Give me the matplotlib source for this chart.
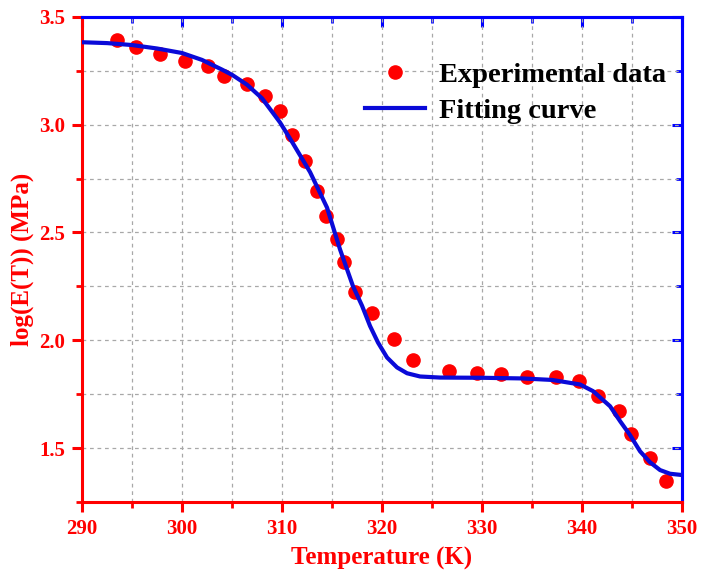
import matplotlib
matplotlib.use("Agg")
from matplotlib import pyplot as plt
from matplotlib.ticker import MultipleLocator

# experimental points
temp_exp = [293.5, 295.4, 297.8, 300.3, 302.6, 304.2, 306.5, 308.3, 309.8,
            311.0, 312.3, 313.5, 314.4, 315.5, 316.2, 317.3, 319.0, 321.2,
            323.1, 326.7, 329.5, 331.9, 334.5, 337.4, 339.7, 341.6, 343.7,
            344.9, 346.8, 348.4]
loge_exp = [3.394, 3.361, 3.329, 3.296, 3.273, 3.227, 3.190, 3.134, 3.065,
            2.954, 2.833, 2.690, 2.574, 2.468, 2.361, 2.222, 2.125, 2.005,
            1.907, 1.856, 1.847, 1.843, 1.829, 1.829, 1.810, 1.741, 1.671,
            1.565, 1.454, 1.347]

# fitted curve, traced
temp_fit = [290.0, 292.5, 295.0, 297.5, 300.0, 302.0, 304.0, 305.0, 306.5,
            308.0, 309.8, 311.0, 312.8, 314.5, 315.8, 317.1, 318.0, 318.8,
            319.6, 320.5, 321.5, 322.5, 323.8, 325.8, 330.0, 334.0, 337.0,
            339.8, 341.1, 342.8, 343.8, 344.8, 345.8, 346.8, 347.8, 348.8,
            350.0]
loge_fit = [3.382, 3.378, 3.369, 3.353, 3.332, 3.300, 3.255, 3.231, 3.185,
            3.122, 3.010, 2.920, 2.780, 2.615, 2.421, 2.250, 2.160, 2.066,
            1.989, 1.920, 1.874, 1.847, 1.832, 1.827, 1.826, 1.823, 1.816,
            1.795, 1.764, 1.694, 1.625, 1.560, 1.485, 1.434, 1.398, 1.381,
            1.375]

RED = '#ff0000'
BLUE = '#0000ff'
plt.rcParams['font.family'] = ['Liberation Serif', 'DejaVu Serif']
plt.rcParams['font.weight'] = 'bold'

fig = plt.figure(figsize=(7.01, 5.79), dpi=100)
ax = fig.add_axes([0.117, 0.133, 0.856, 0.838])

ax.plot(temp_exp, loge_exp, 'o', color=RED, markersize=9.5, label='Experimental data', zorder=3)
ax.plot(temp_fit, loge_fit, '-', color='#0a0ad8', linewidth=3, label='Fitting curve',
        solid_joinstyle='round', zorder=4)

ax.set_xlim(290, 350)
ax.set_ylim(1.25, 3.5)
ax.xaxis.set_major_locator(MultipleLocator(10))
ax.xaxis.set_minor_locator(MultipleLocator(5))
ax.yaxis.set_major_locator(MultipleLocator(0.5))
ax.yaxis.set_minor_locator(MultipleLocator(0.25))

ax.grid(True, which='both', color='#a8a8a8', linestyle=(0, (3, 3)), linewidth=0.9)
ax.set_axisbelow(True)

for side in ['left', 'bottom']:
    ax.spines[side].set_color(RED)
    ax.spines[side].set_linewidth(2.2)
for side in ['top', 'right']:
    ax.spines[side].set_color(BLUE)
    ax.spines[side].set_linewidth(2.2)

ax.tick_params(which='major', direction='out', length=7, width=2.2, colors=RED,
               labelsize=15, pad=5)
ax.tick_params(which='minor', direction='out', length=4, width=2, colors=RED)

# inward blue ticks on top and right
top = ax.secondary_xaxis('top')
top.xaxis.set_major_locator(MultipleLocator(10))
top.xaxis.set_minor_locator(MultipleLocator(5))
top.tick_params(which='major', direction='in', length=7, width=2.2, colors=BLUE, labeltop=False)
top.tick_params(which='minor', direction='in', length=4, width=2, colors=BLUE)
top.spines['top'].set_color(BLUE)
top.spines['top'].set_linewidth(2.2)
right = ax.secondary_yaxis('right')
right.yaxis.set_major_locator(MultipleLocator(0.5))
right.yaxis.set_minor_locator(MultipleLocator(0.25))
right.tick_params(which='major', direction='in', length=7, width=2.2, colors=BLUE, labelright=False)
right.tick_params(which='minor', direction='in', length=4, width=2, colors=BLUE)
right.spines['right'].set_color(BLUE)
right.spines['right'].set_linewidth(2.2)

for lab in ax.get_xticklabels() + ax.get_yticklabels():
    lab.set_fontweight('bold')

ax.set_xlabel('Temperature (K)', fontsize=18, fontweight='bold', color=RED, labelpad=6)
ax.set_ylabel('log(E(T)) (MPa)', fontsize=18, fontweight='bold', color=RED, labelpad=4)

ax.legend(loc='upper left', bbox_to_anchor=(0.472, 0.906), frameon=False,
          prop={'size': 20.5, 'weight': 'bold'}, handlelength=2.1,
          handletextpad=0.5, labelspacing=0.33, borderpad=0, borderaxespad=0)

fig.savefig('out.png', dpi=100)
